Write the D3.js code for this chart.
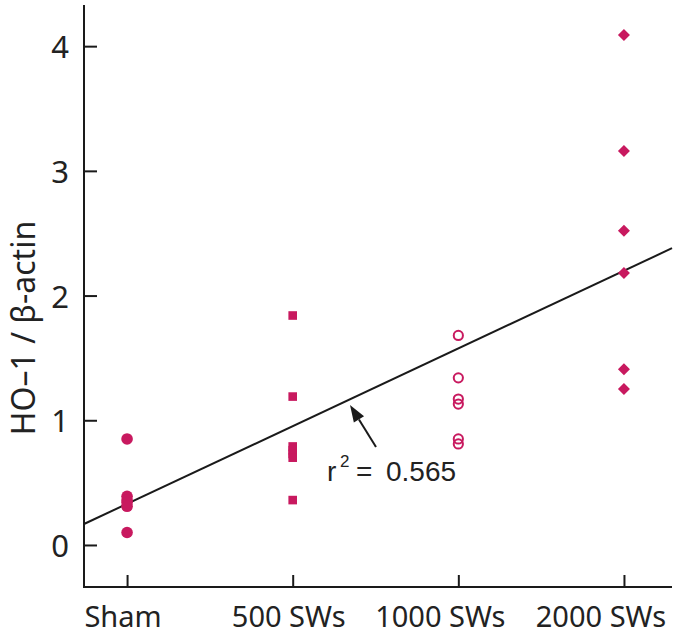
<!DOCTYPE html>
<html>
<head>
<meta charset="utf-8">
<script src="https://cdn.jsdelivr.net/npm/d3@7"></script>
<style>
  html, body { margin: 0; padding: 0; background: #fff; }
  svg { display: block; }
</style>
</head>
<body>
<div id="chart"></div>
<script>
// ---- data ----
const categories = ["Sham", "500 SWs", "1000 SWs", "2000 SWs"];
const shamValues = [0.85, 0.39, 0.36, 0.34, 0.31, 0.10];
const sw500Values = [1.84, 1.19, 0.79, 0.76, 0.73, 0.70, 0.36];
const sw1000Values = [1.68, 1.34, 1.17, 1.13, 0.85, 0.81];
const sw2000Values = [4.09, 3.16, 2.52, 2.18, 1.41, 1.25];
const yTicks = [0, 1, 2, 3, 4];
const fitIntercept = 0.33;    // regression value at Sham
const fitSlope = 0.623;       // per group step
const r2Label = "0.565";
const yTitle = "HO\u20131 / \u03B2-actin";

// ---- layout ----
const W = 675, H = 638;
const color = "#c8195f";
const axisColor = "#1a1a1a";
const font = "'Noto Sans', 'Open Sans', sans-serif";

const svg = d3.select("#chart").append("svg")
  .attr("width", W).attr("height", H);

const x = d3.scaleLinear().domain([-0.26, 3.29]).range([84, 672]);
const y = d3.scaleLinear().domain([-0.337, 4.33]).range([587, 5]);

// axes lines
svg.append("line").attr("x1", x(-0.26)).attr("x2", x(-0.26))
  .attr("y1", y(4.33)).attr("y2", y(-0.337))
  .attr("stroke", axisColor).attr("stroke-width", 2);
svg.append("line").attr("x1", x(-0.26) - 1).attr("x2", x(3.29))
  .attr("y1", y(-0.337)).attr("y2", y(-0.337))
  .attr("stroke", axisColor).attr("stroke-width", 2);

// y ticks (inward)
const yAxis = d3.axisRight(y).tickValues(yTicks).tickSize(13).tickFormat("");
const gy = svg.append("g").attr("transform", `translate(${x(-0.26)},0)`).call(yAxis);
gy.select(".domain").remove();
gy.selectAll(".tick line").attr("stroke", axisColor).attr("stroke-width", 2);

svg.selectAll(".ylab").data(yTicks).join("text")
  .attr("class", "ylab")
  .attr("x", 69).attr("y", d => y(d) + 12)
  .attr("text-anchor", "end")
  .attr("font-family", font).attr("font-size", 31).attr("fill", "#222")
  .text(d => d);

// x ticks (inward)
const xAxis = d3.axisTop(x).tickValues(d3.range(categories.length)).tickSize(12).tickFormat("");
const gx = svg.append("g").attr("transform", `translate(0,${y(-0.337)})`).call(xAxis);
gx.select(".domain").remove();
gx.selectAll(".tick line").attr("stroke", axisColor).attr("stroke-width", 2);

const labelShift = [-4, -4, -18, -23];
svg.selectAll(".xlab").data(categories).join("text")
  .attr("class", "xlab")
  .attr("x", (d, i) => x(i) + labelShift[i]).attr("y", 627)
  .attr("text-anchor", "middle")
  .attr("font-family", font).attr("font-size", 29).attr("fill", "#222")
  .text(d => d);

// y title
svg.append("text")
  .attr("transform", `translate(35,328) rotate(-90)`)
  .attr("text-anchor", "middle")
  .attr("font-family", font).attr("font-size", 32).attr("fill", "#222")
  .text(yTitle);

// regression line
const xd = x.domain();
svg.append("line")
  .attr("x1", x(xd[0])).attr("y1", y(fitIntercept + fitSlope * xd[0]))
  .attr("x2", x(xd[1])).attr("y2", y(fitIntercept + fitSlope * xd[1]))
  .attr("stroke", "#1a1a1a").attr("stroke-width", 2);

// points
const g = svg.append("g");
g.selectAll(".sham").data(shamValues).join("circle")
  .attr("cx", x(0)).attr("cy", d => y(d)).attr("r", 5.8).attr("fill", color);
g.selectAll(".s500").data(sw500Values).join("rect")
  .attr("x", x(1) - 4.3).attr("y", d => y(d) - 4.3)
  .attr("width", 8.6).attr("height", 8.6).attr("fill", color);
g.selectAll(".s1000").data(sw1000Values).join("circle")
  .attr("cx", x(2)).attr("cy", d => y(d)).attr("r", 4.6)
  .attr("fill", "none").attr("stroke", color).attr("stroke-width", 2);
g.selectAll(".s2000").data(sw2000Values).join("path")
  .attr("transform", d => `translate(${x(3)},${y(d)})`)
  .attr("d", "M0,-6L6,0L0,6L-6,0Z").attr("fill", color);

// arrow annotation
const tip = [350, 405], tail = [376, 447];
const ang = Math.atan2(tip[1] - tail[1], tip[0] - tail[0]);
const headLen = 17, headW = 6;
const bx = tip[0] - headLen * Math.cos(ang), by = tip[1] - headLen * Math.sin(ang);
svg.append("line").attr("x1", tail[0]).attr("y1", tail[1]).attr("x2", bx).attr("y2", by)
  .attr("stroke", "#1a1a1a").attr("stroke-width", 2);
svg.append("path")
  .attr("d", `M${tip[0]},${tip[1]}L${bx - headW * Math.sin(ang)},${by + headW * Math.cos(ang)}L${bx + headW * Math.sin(ang)},${by - headW * Math.cos(ang)}Z`)
  .attr("fill", "#1a1a1a");

// r^2 label
const rt = svg.append("text").attr("y", 481)
  .attr("font-family", "'Liberation Sans', Arial, sans-serif").attr("font-size", 28).attr("fill", "#222");
rt.append("tspan").attr("x", 327).text("r");
rt.append("tspan").attr("x", 340).attr("dy", -14).attr("font-size", 17).text("2");
rt.append("tspan").attr("x", 356).attr("dy", 14).text("=");
rt.append("tspan").attr("x", 386).text(r2Label);
</script>
</body>
</html>
